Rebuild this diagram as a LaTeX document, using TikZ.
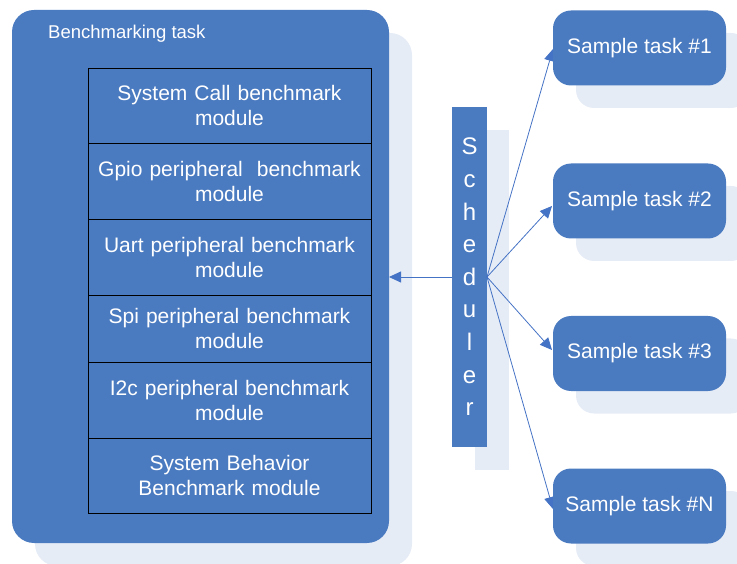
\documentclass[tikz,border=0pt]{standalone}
\usepackage{fontspec}
\setmainfont{Liberation Sans}
\usetikzlibrary{arrows.meta}
\definecolor{boxblue}{RGB}{74,122,192}
\definecolor{shade}{RGB}{230,236,246}
\definecolor{linkblue}{RGB}{68,114,196}
\begin{document}
\begin{tikzpicture}[x=1pt,y=-1pt,
  shadowbox/.style={fill=shade, draw=none, inner sep=0pt, outer sep=0pt},
  bluebox/.style={fill=boxblue, draw=none, inner sep=0pt, outer sep=0pt, text=white},
  module/.style={fill=boxblue, draw=black, line width=0.9pt, inner sep=0pt, outer sep=0pt,
    text=white, minimum width=283pt, text width=275pt, align=center,
    font=\fontsize{21}{25}\selectfont},
  taskbox/.style={bluebox, rounded corners=18pt, minimum width=173pt, minimum height=75pt,
    font=\fontsize{21}{24}\selectfont},
  taskshadow/.style={shadowbox, rounded corners=18pt, minimum width=173pt, minimum height=75pt},
  link/.style={draw=linkblue, line width=0.8pt, -{Triangle[length=12pt,width=11pt]}}
]
\useasboundingbox (0,0) rectangle (737,564);

% benchmarking task container
\node[shadowbox, rounded corners=22pt, minimum width=377pt, minimum height=533pt] (benchshadow) at (223.5,299.5) {};
\node[bluebox, rounded corners=22pt, minimum width=377pt, minimum height=533pt] (bench) at (200.5,276.5) {};
\node[anchor=west, text=white, inner sep=0pt, font=\fontsize{18.5}{22}\selectfont] (title) at (48,34) {Benchmarking task};

% modules
\node[module, minimum height=75pt] (m1) at (229.5,105.5) {System Call benchmark\\module};
\node[module, minimum height=76pt] (m2) at (229.5,181) {Gpio peripheral\ \ benchmark\\module};
\node[module, minimum height=76pt] (m3) at (229.5,257) {Uart peripheral benchmark\\module};
\node[module, minimum height=67pt] (m4) at (229.5,328.5) {Spi peripheral benchmark\\module};
\node[module, minimum height=76pt] (m5) at (229.5,400) {I2c peripheral benchmark\\module};
\node[module, minimum height=75pt] (m6) at (229.5,475.5) {System Behavior\\Benchmark module};

% scheduler
\node[shadowbox, minimum width=34pt, minimum height=340pt] (schedshadow) at (492,300) {};
\node[bluebox, minimum width=35pt, minimum height=340pt, align=center,
  font=\fontsize{24}{32.6}\selectfont] (sched) at (469.5,277) {S\\c\\h\\e\\d\\u\\l\\e\\r};

% arrow tips
\coordinate (tip1) at (553,49);
\coordinate (tip2) at (552,206);
\coordinate (tip3) at (552,350);
\coordinate (tipN) at (553,509);

\draw[link] (sched.west) -- (sched.west -| bench.east);
\draw[link] (sched.east) -- (tip1);
\draw[link] (sched.east) -- (tip2);
\draw[link] (sched.east) -- (tip3);
\draw[link] (sched.east) -- (tipN);

% sample tasks
\node[taskshadow] (s1) at (662.5,70.5) {};
\node[taskshadow] (s2) at (662.5,223.5) {};
\node[taskshadow] (s3) at (662.5,376) {};
\node[taskshadow] (sN) at (662.5,528.5) {};
\node[taskbox] (task1) at (639.5,48) {Sample task \#1};
\node[taskbox] (task2) at (639.5,201) {Sample task \#2};
\node[taskbox] (task3) at (639.5,353.5) {Sample task \#3};
\node[taskbox] (taskN) at (639.5,506) {Sample task \#N};
\end{tikzpicture}
\end{document}
